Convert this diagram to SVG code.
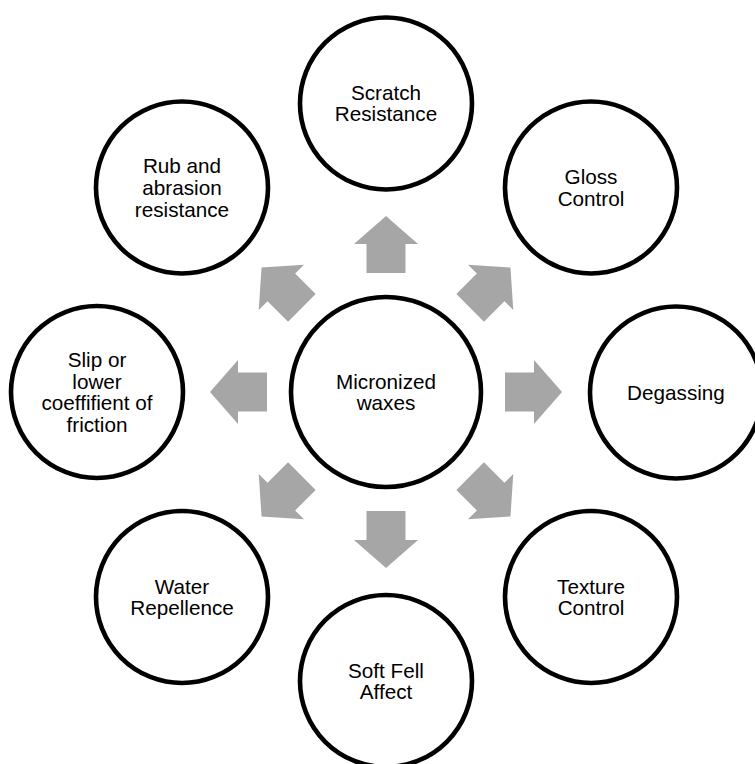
<svg xmlns="http://www.w3.org/2000/svg" width="755" height="764" viewBox="0 0 755 764">
<style>
.node circle{fill:#fff;stroke:#000;stroke-width:4.6}
.node text{font-family:"Liberation Sans",Arial,sans-serif;font-size:20.7px;fill:#000;text-anchor:middle}
.arr{fill:#A6A6A6}
</style>
<defs>
<path id="arrow" d="M0,-176 L32,-148 L19.5,-148 L19.5,-119 L-19.5,-119 L-19.5,-148 L-32,-148 Z"/>
</defs>
<rect width="755" height="764" fill="#fff"/>
<g id="connectors" class="arr">
<use href="#arrow" transform="translate(386,392) rotate(0)"/>
<use href="#arrow" transform="translate(386,392) rotate(45)"/>
<use href="#arrow" transform="translate(386,392) rotate(90)"/>
<use href="#arrow" transform="translate(386,392) rotate(135)"/>
<use href="#arrow" transform="translate(386,392) rotate(180)"/>
<use href="#arrow" transform="translate(386,392) rotate(225)"/>
<use href="#arrow" transform="translate(386,392) rotate(270)"/>
<use href="#arrow" transform="translate(386,392) rotate(315)"/>
</g>
<g id="center" class="node">
<circle cx="386" cy="392" r="95"/>
<text x="386" y="388.5">Micronized</text>
<text x="386" y="410.2">waxes</text>
</g>
<g id="scratch" class="node">
<circle cx="386" cy="103.5" r="86"/>
<text x="386" y="99.5">Scratch</text>
<text x="386" y="121.2">Resistance</text>
</g>
<g id="gloss" class="node">
<circle cx="591" cy="187.5" r="86"/>
<text x="591" y="184">Gloss</text>
<text x="591" y="205.7">Control</text>
</g>
<g id="degassing" class="node">
<circle cx="676" cy="392.5" r="86"/>
<text x="676" y="399.5">Degassing</text>
</g>
<g id="texture" class="node">
<circle cx="591" cy="597" r="86"/>
<text x="591" y="593.5">Texture</text>
<text x="591" y="615.2">Control</text>
</g>
<g id="softfell" class="node">
<circle cx="386" cy="681" r="86"/>
<text x="386" y="677.5">Soft Fell</text>
<text x="386" y="699.2">Affect</text>
</g>
<g id="water" class="node">
<circle cx="182" cy="597" r="86"/>
<text x="182" y="593.5">Water</text>
<text x="182" y="615.2">Repellence</text>
</g>
<g id="slip" class="node">
<circle cx="97" cy="392" r="86"/>
<text x="97" y="366.8">Slip or</text>
<text x="97" y="388.5">lower</text>
<text x="97" y="410.2">coeffifient of</text>
<text x="97" y="431.9">friction</text>
</g>
<g id="rub" class="node">
<circle cx="182" cy="187.5" r="86"/>
<text x="182" y="173.2">Rub and</text>
<text x="182" y="194.9">abrasion</text>
<text x="182" y="216.6">resistance</text>
</g>
</svg>
